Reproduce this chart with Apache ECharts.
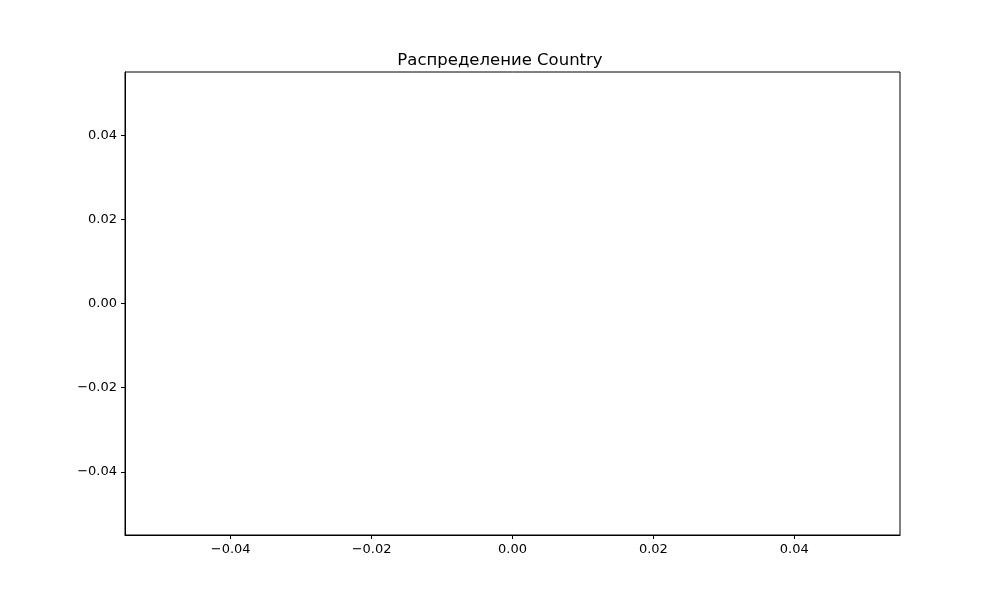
<!DOCTYPE html>
<html>
<head>
<meta charset="utf-8">
<script src="https://cdn.jsdelivr.net/npm/echarts@6/dist/echarts.min.js"></script>
<style>html,body{margin:0;padding:0;background:#fff}#chart{width:1000px;height:600px}</style>
</head>
<body>
<div id="chart"></div>
<script>
// пустой график: данных нет, только оси
var titleText = 'Распределение Country';
var xTicks = [-0.04, -0.02, 0.00, 0.02, 0.04];
var yTicks = [-0.04, -0.02, 0.00, 0.02, 0.04];
var xRange = [-0.055, 0.055];
var yRange = [-0.055, 0.055];
var points = [];

function fmt(v) {
	return v.toFixed(2).replace('-', '\u2212');
}

var myChart = echarts.init(document.getElementById('chart'));
var option = {
	animation: false,
	textStyle: { fontFamily: 'DejaVu Sans' },
	title: {
		text: titleText,
		left: 'center',
		top: 47,
		textStyle: { fontSize: 16.5, fontWeight: 'normal', color: '#000', fontFamily: 'DejaVu Sans' }
	},
	grid: {
		left: 125, right: 100, top: 72, bottom: 65,
		show: true, borderColor: '#000', borderWidth: 1, backgroundColor: '#fff'
	},
	xAxis: {
		type: 'value', min: xRange[0], max: xRange[1],
		axisLine: { show: true, onZero: false, lineStyle: { color: '#000' } },
		axisTick: { show: true, inside: false, length: 4, customValues: xTicks, lineStyle: { color: '#000' } },
		axisLabel: { customValues: xTicks, formatter: fmt, color: '#000', fontSize: 13, margin: 8, fontFamily: 'DejaVu Sans' },
		splitLine: { show: false }
	},
	yAxis: {
		type: 'value', min: yRange[0], max: yRange[1],
		axisLine: { show: true, onZero: false, lineStyle: { color: '#000' } },
		axisTick: { show: true, inside: false, length: 4, customValues: yTicks, lineStyle: { color: '#000' } },
		axisLabel: { customValues: yTicks, formatter: fmt, color: '#000', fontSize: 13, margin: 8, fontFamily: 'DejaVu Sans' },
		splitLine: { show: false }
	},
	series: [{ type: 'scatter', data: points }]
};
myChart.setOption(option, true);
</script>
</body>
</html>
